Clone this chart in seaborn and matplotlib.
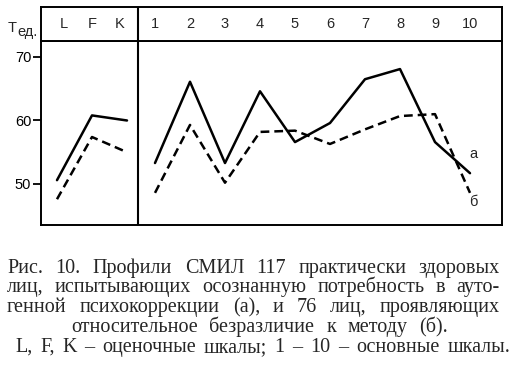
import matplotlib
matplotlib.use("Agg")
import matplotlib.pyplot as plt
import pandas as pd
import seaborn as sns

# Scales of the MMPI (СМИЛ) profile
lfk_scales = ["L", "F", "K"]
main_scales = ["1", "2", "3", "4", "5", "6", "7", "8", "9", "10"]

# T-scores: group "а" (solid) and group "б" (dashed)
lfk_a = [50.6, 60.8, 60.0]
lfk_b = [47.6, 57.4, 55.0]
main_a = [53.3, 66.1, 53.3, 64.6, 56.6, 59.6, 66.5, 68.1, 56.6, 51.7]
main_b = [48.6, 59.3, 50.2, 58.2, 58.4, 56.3, 58.6, 60.7, 61.0, 48.6]

y_ticks = [50, 60, 70]

caption_lines = [
    "Рис. 10. Профили СМИЛ 117 практически здоровых",
    "лиц, испытывающих осознанную потребность в ауто-",
    "генной психокоррекции (а), и 76 лиц, проявляющих",
    "относительное безразличие к методу (б).",
    "L, F, K – оценочные шкалы; 1 – 10 – основные шкалы.",
]

# long table for seaborn
rows = []
for i, s in enumerate(lfk_scales):
    rows.append({"pos": i - 1.8, "T": lfk_a[i], "group": "а", "panel": "lfk"})
    rows.append({"pos": i - 1.8, "T": lfk_b[i], "group": "б", "panel": "lfk"})
for i, s in enumerate(main_scales):
    rows.append({"pos": i + 1, "T": main_a[i], "group": "а", "panel": "main"})
    rows.append({"pos": i + 1, "T": main_b[i], "group": "б", "panel": "main"})
df = pd.DataFrame(rows)

sns.set_style("white")
plt.rcParams["font.family"] = ["Liberation Sans", "DejaVu Sans"]

W, H = 517, 373
fig = plt.figure(figsize=(W / 100, H / 100), dpi=100)
ax = fig.add_axes([41 / W, 1 - 225 / H, 461 / W, 184 / H])
hdr = fig.add_axes([41 / W, 1 - 41 / H, 461 / W, 34 / H])

sns.lineplot(data=df, x="pos", y="T", hue="group", style="group", units="panel",
             estimator=None, sort=False, palette={"а": "black", "б": "black"},
             dashes={"а": "", "б": (3.5, 2)}, linewidth=1.8, legend=False, ax=ax)

xlim = (-2.257, 10.914)
ax.set_xlim(*xlim)
ax.set_ylim(43.54, 72.52)
ax.set_yticks(y_ticks)
ax.set_xticks([])
ax.set_xlabel("")
ax.set_ylabel("")
ax.tick_params(axis="y", direction="out", length=6, width=1.3, labelsize=10.5,
               colors="black", pad=1, left=True)
divider = 0.514
ax.axvline(divider, color="black", lw=1.5)

hdr.set_xlim(*xlim)
hdr.set_ylim(0, 1)
hdr.set_xticks([])
hdr.set_yticks([])
hdr.axvline(divider, color="black", lw=1.5)
for i, s in enumerate(lfk_scales):
    hdr.text(i * 0.8 - 1.6, 0.5, s, ha="center", va="center", fontsize=10.5)
for i, s in enumerate(main_scales):
    hdr.text(i + 1, 0.5, s, ha="center", va="center", fontsize=10.5)

for a in (ax, hdr):
    for sp in a.spines.values():
        sp.set_color("black")
        sp.set_linewidth(1.4)

ax.text(10.09, 54.7, "а", ha="center", va="center", fontsize=10.5)
ax.text(10.09, 47.2, "б", ha="center", va="center", fontsize=10.5)

fig.text(8 / W, 1 - 32 / H, "T", fontsize=10.5, va="baseline")
fig.text(17 / W, 1 - 36 / H, "ед.", fontsize=10.5, va="baseline")

# caption, justified line by line
fig.canvas.draw()
renderer = fig.canvas.get_renderer()
spans = [(7, 500), (7, 500), (7, 500), (71, 448), (15, 510)]
baselines = [273, 292, 312, 332, 352]
for line, (x0, x1), yb in zip(caption_lines, spans, baselines):
    words = line.split()
    texts = [fig.text(0, 1 - yb / H, w, fontsize=14.5, family="Liberation Serif",
                      va="baseline") for w in words]
    widths = [t.get_window_extent(renderer).width for t in texts]
    gap = (x1 - x0 - sum(widths)) / (len(words) - 1)
    x = x0
    for t, w in zip(texts, widths):
        t.set_x(x / W)
        x += w + gap

fig.savefig("out.png", dpi=100)
